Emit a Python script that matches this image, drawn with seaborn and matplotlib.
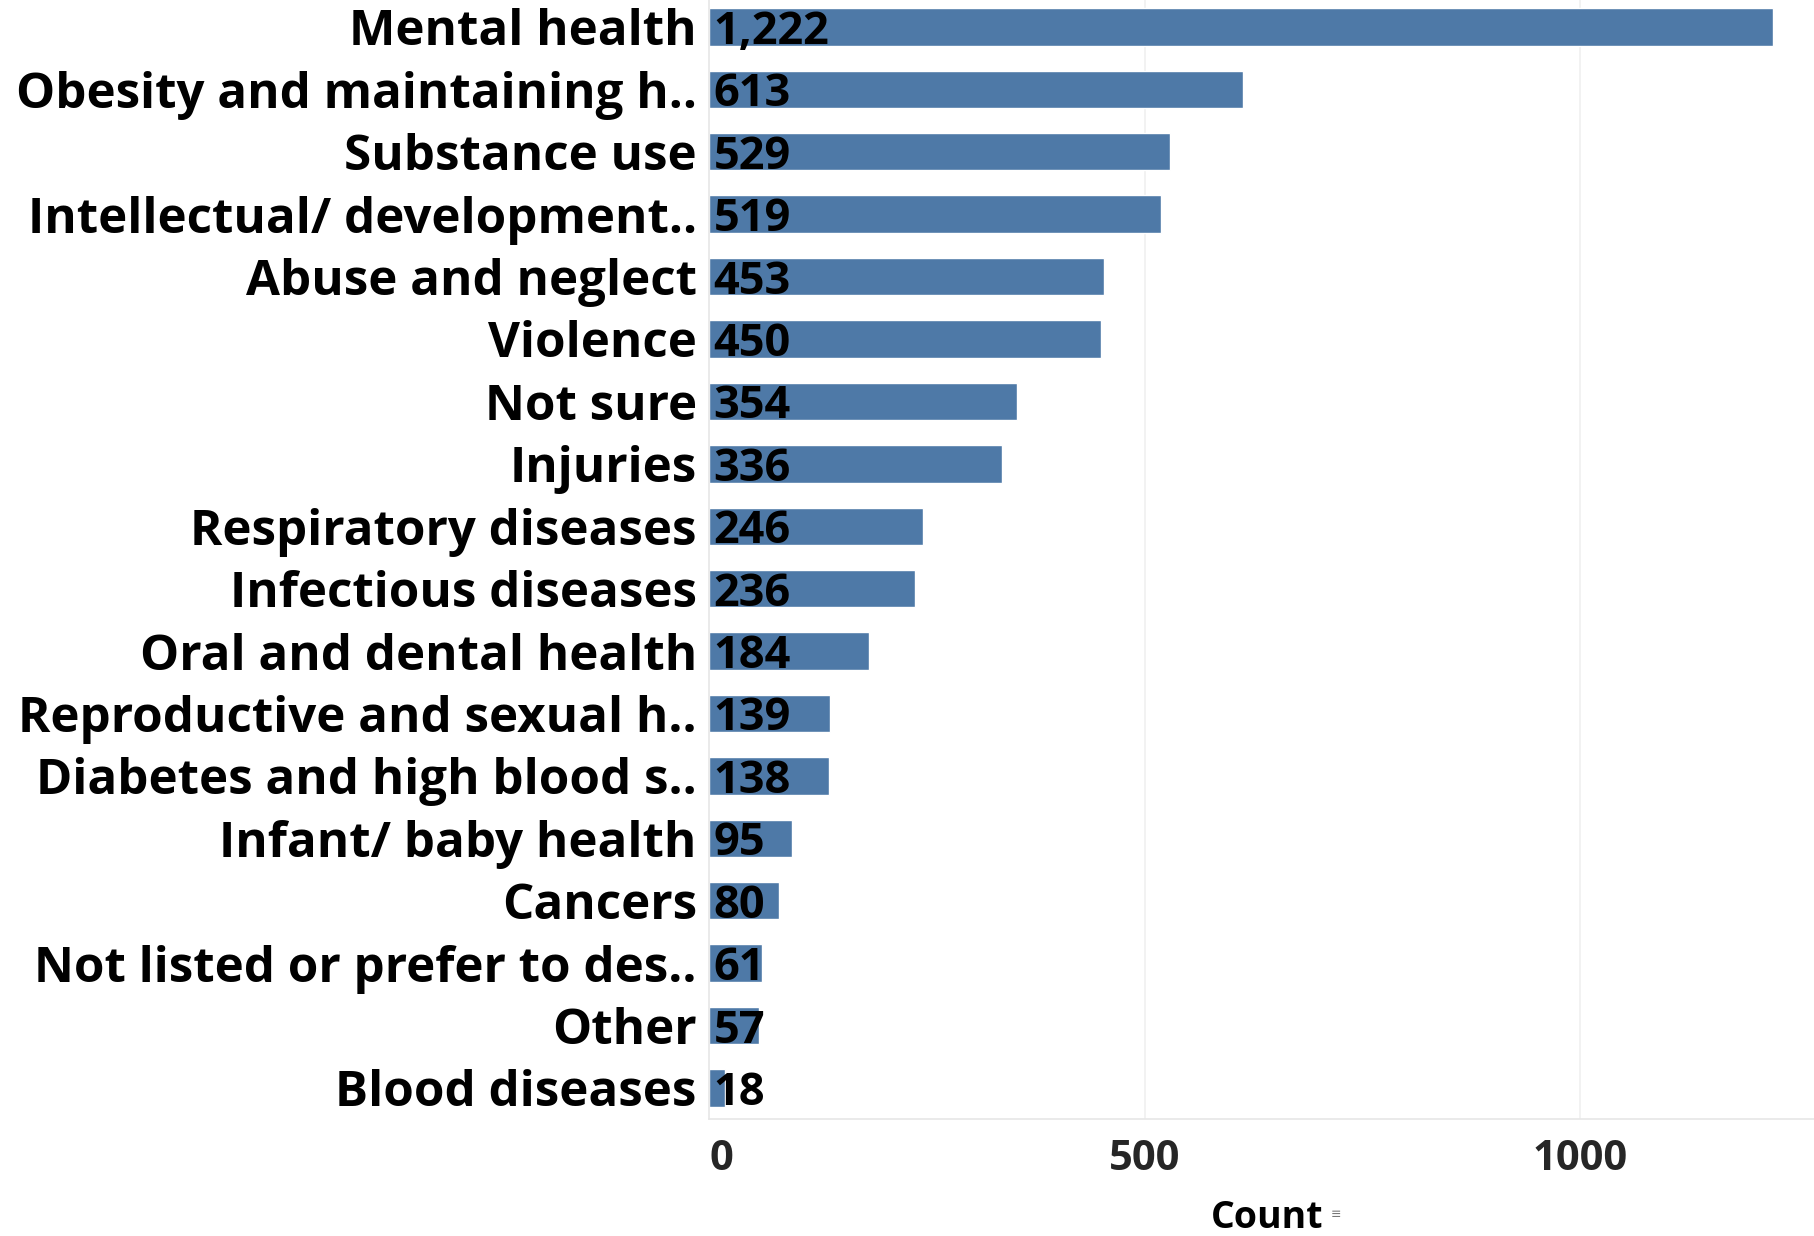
import matplotlib
matplotlib.use("Agg")
import matplotlib.pyplot as plt
import seaborn as sns
import pandas as pd

categories = [
    "Mental health",
    "Obesity and maintaining h..",
    "Substance use",
    "Intellectual/ development..",
    "Abuse and neglect",
    "Violence",
    "Not sure",
    "Injuries",
    "Respiratory diseases",
    "Infectious diseases",
    "Oral and dental health",
    "Reproductive and sexual h..",
    "Diabetes and high blood s..",
    "Infant/ baby health",
    "Cancers",
    "Not listed or prefer to des..",
    "Other",
    "Blood diseases",
]
counts = [1222, 613, 529, 519, 453, 450, 354, 336, 246, 236, 184, 139, 138, 95, 80, 61, 57, 18]
x_ticks = [0, 500, 1000]

df = pd.DataFrame({"Category": categories, "Count": counts})

sns.set_theme(style="white")
plt.rcParams["font.family"] = ["Open Sans", "DejaVu Sans"]

fig = plt.figure(figsize=(18.14, 12.36), dpi=100)
ax = fig.add_axes([0.391, 0.0945, 0.609, 0.909])

bar_color = "#4e79a7"
sns.barplot(data=df, x="Count", y="Category", orient="h", color=bar_color,
            width=0.6, saturation=1, ax=ax)

ax.set_xlim(0, 1269)
ax.set_xticks(x_ticks)
ax.set_xticklabels([str(t) for t in x_ticks], fontsize=30, fontweight="bold")
ax.get_xticklabels()[0].set_horizontalalignment("left")
ax.tick_params(axis="x", length=0, pad=14)
ax.tick_params(axis="y", length=0, pad=9)
for lbl in ax.get_yticklabels():
    lbl.set_fontsize(35.5)
    lbl.set_fontweight("bold")
    lbl.set_color("black")

ax.set_ylabel("")
ax.set_xlabel("")

# light vertical gridlines, baseline and bottom rule
for t in x_ticks[1:]:
    ax.axvline(t, color="#f0f0f0", lw=1.2, zorder=0)
for side in ["top", "right"]:
    ax.spines[side].set_visible(False)
ax.spines["left"].set_color("#e6e6e6")
ax.spines["left"].set_linewidth(1.2)
ax.spines["bottom"].set_color("#e6e6e6")
ax.spines["bottom"].set_linewidth(1.2)

# value labels at the start of each bar
for i, v in enumerate(counts):
    ax.text(5, i, f"{v:,}", ha="left", va="center_baseline", fontsize=32.5,
            fontweight="bold", color="black", zorder=5)

# axis title with a small sort indicator
fig.text(0.6985, 0.0145, "Count", fontsize=27, fontweight="bold",
         ha="center", va="center", color="black")
fig.text(0.7335, 0.0175, "≡", fontsize=9, color="#777777", ha="left", va="center")

fig.savefig("out.png", dpi=100)
